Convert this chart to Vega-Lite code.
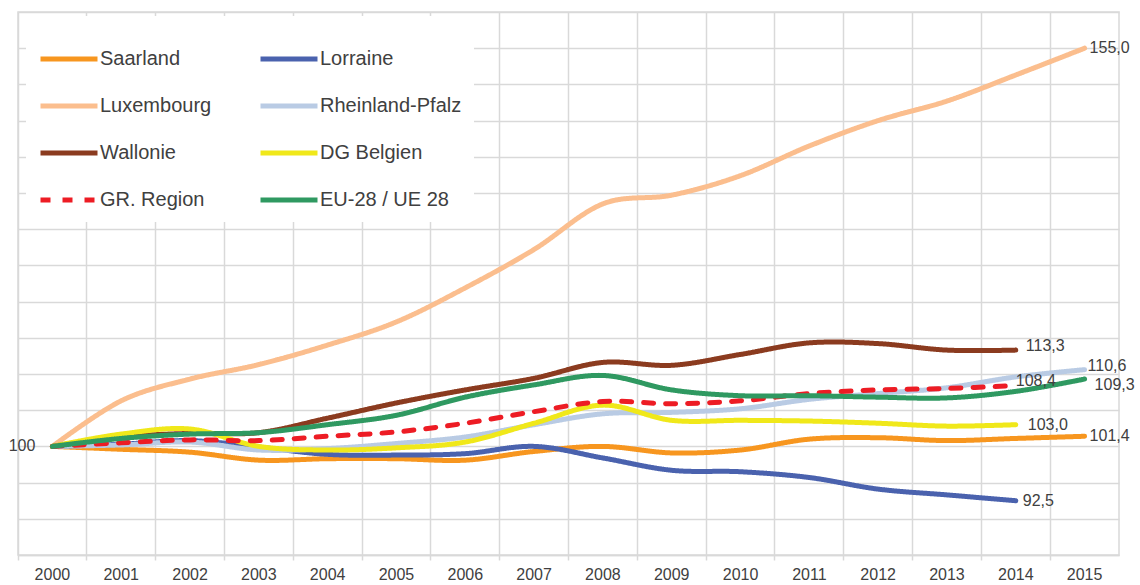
{
  "$schema": "https://vega.github.io/schema/vega-lite/v6.json",
  "width": 1101,
  "height": 543,
  "autosize": {"type": "none"},
  "padding": {"left": 18, "top": 12, "right": 21, "bottom": 30},
  "background": "white",
  "config": {
    "view": {"stroke": "#d9d9d9", "strokeWidth": 1.5},
    "font": "Liberation Sans",
    "legend": {
      "title": null,
      "orient": "none",
      "legendX": 8,
      "legendY": 4,
      "direction": "horizontal",
      "columns": 2,
      "columnPadding": 38,
      "rowPadding": 6,
      "padding": 12,
      "fillColor": "white",
      "symbolType": "stroke",
      "symbolStrokeWidth": 5,
      "symbolSize": 3249,
      "labelFont": "Liberation Sans",
      "labelFontSize": 20,
      "labelColor": "#404040",
      "labelOffset": 0
    }
  },
  "data": {
    "values": [
      {"year": "2000", "series": "Saarland", "value": 100},
      {"year": "2001", "series": "Saarland", "value": 99.6},
      {"year": "2002", "series": "Saarland", "value": 99.2},
      {"year": "2003", "series": "Saarland", "value": 98.1},
      {"year": "2004", "series": "Saarland", "value": 98.3},
      {"year": "2005", "series": "Saarland", "value": 98.3},
      {"year": "2006", "series": "Saarland", "value": 98.1},
      {"year": "2007", "series": "Saarland", "value": 99.3},
      {"year": "2008", "series": "Saarland", "value": 100.0},
      {"year": "2009", "series": "Saarland", "value": 99.1},
      {"year": "2010", "series": "Saarland", "value": 99.5},
      {"year": "2011", "series": "Saarland", "value": 101.0},
      {"year": "2012", "series": "Saarland", "value": 101.2},
      {"year": "2013", "series": "Saarland", "value": 100.8},
      {"year": "2014", "series": "Saarland", "value": 101.1},
      {"year": "2015", "series": "Saarland", "value": 101.4, "label": "101,4"},

      {"year": "2000", "series": "Lorraine", "value": 100},
      {"year": "2001", "series": "Lorraine", "value": 100.3},
      {"year": "2002", "series": "Lorraine", "value": 100.8},
      {"year": "2003", "series": "Lorraine", "value": 99.9},
      {"year": "2004", "series": "Lorraine", "value": 98.9},
      {"year": "2005", "series": "Lorraine", "value": 98.8},
      {"year": "2006", "series": "Lorraine", "value": 99.0},
      {"year": "2007", "series": "Lorraine", "value": 100.0},
      {"year": "2008", "series": "Lorraine", "value": 98.4},
      {"year": "2009", "series": "Lorraine", "value": 96.7},
      {"year": "2010", "series": "Lorraine", "value": 96.5},
      {"year": "2011", "series": "Lorraine", "value": 95.7},
      {"year": "2012", "series": "Lorraine", "value": 94.1},
      {"year": "2013", "series": "Lorraine", "value": 93.3},
      {"year": "2014", "series": "Lorraine", "value": 92.5, "label": "92,5"},

      {"year": "2000", "series": "Luxembourg", "value": 100},
      {"year": "2001", "series": "Luxembourg", "value": 106.3},
      {"year": "2002", "series": "Luxembourg", "value": 109.3},
      {"year": "2003", "series": "Luxembourg", "value": 111.3},
      {"year": "2004", "series": "Luxembourg", "value": 114.0},
      {"year": "2005", "series": "Luxembourg", "value": 117.2},
      {"year": "2006", "series": "Luxembourg", "value": 121.9},
      {"year": "2007", "series": "Luxembourg", "value": 127.2},
      {"year": "2008", "series": "Luxembourg", "value": 133.5},
      {"year": "2009", "series": "Luxembourg", "value": 134.7},
      {"year": "2010", "series": "Luxembourg", "value": 137.4},
      {"year": "2011", "series": "Luxembourg", "value": 141.5},
      {"year": "2012", "series": "Luxembourg", "value": 145.0},
      {"year": "2013", "series": "Luxembourg", "value": 147.7},
      {"year": "2014", "series": "Luxembourg", "value": 151.3},
      {"year": "2015", "series": "Luxembourg", "value": 155.0, "label": "155,0"},

      {"year": "2000", "series": "Rheinland-Pfalz", "value": 100},
      {"year": "2001", "series": "Rheinland-Pfalz", "value": 100.2},
      {"year": "2002", "series": "Rheinland-Pfalz", "value": 100.6},
      {"year": "2003", "series": "Rheinland-Pfalz", "value": 99.5},
      {"year": "2004", "series": "Rheinland-Pfalz", "value": 99.7},
      {"year": "2005", "series": "Rheinland-Pfalz", "value": 100.4},
      {"year": "2006", "series": "Rheinland-Pfalz", "value": 101.3},
      {"year": "2007", "series": "Rheinland-Pfalz", "value": 103.0},
      {"year": "2008", "series": "Rheinland-Pfalz", "value": 104.5},
      {"year": "2009", "series": "Rheinland-Pfalz", "value": 104.7},
      {"year": "2010", "series": "Rheinland-Pfalz", "value": 105.2},
      {"year": "2011", "series": "Rheinland-Pfalz", "value": 106.5},
      {"year": "2012", "series": "Rheinland-Pfalz", "value": 107.3},
      {"year": "2013", "series": "Rheinland-Pfalz", "value": 108.1},
      {"year": "2014", "series": "Rheinland-Pfalz", "value": 109.6},
      {"year": "2015", "series": "Rheinland-Pfalz", "value": 110.6, "label": "110,6"},

      {"year": "2000", "series": "Wallonie", "value": 100},
      {"year": "2001", "series": "Wallonie", "value": 101.3},
      {"year": "2002", "series": "Wallonie", "value": 101.8},
      {"year": "2003", "series": "Wallonie", "value": 101.9},
      {"year": "2004", "series": "Wallonie", "value": 103.9},
      {"year": "2005", "series": "Wallonie", "value": 106.0},
      {"year": "2006", "series": "Wallonie", "value": 107.8},
      {"year": "2007", "series": "Wallonie", "value": 109.4},
      {"year": "2008", "series": "Wallonie", "value": 111.6},
      {"year": "2009", "series": "Wallonie", "value": 111.2},
      {"year": "2010", "series": "Wallonie", "value": 112.7},
      {"year": "2011", "series": "Wallonie", "value": 114.3},
      {"year": "2012", "series": "Wallonie", "value": 114.2},
      {"year": "2013", "series": "Wallonie", "value": 113.3},
      {"year": "2014", "series": "Wallonie", "value": 113.3, "label": "113,3"},

      {"year": "2000", "series": "DG Belgien", "value": 100},
      {"year": "2001", "series": "DG Belgien", "value": 101.7},
      {"year": "2002", "series": "DG Belgien", "value": 102.4},
      {"year": "2003", "series": "DG Belgien", "value": 100.0},
      {"year": "2004", "series": "DG Belgien", "value": 99.5},
      {"year": "2005", "series": "DG Belgien", "value": 99.8},
      {"year": "2006", "series": "DG Belgien", "value": 100.6},
      {"year": "2007", "series": "DG Belgien", "value": 103.2},
      {"year": "2008", "series": "DG Belgien", "value": 105.7},
      {"year": "2009", "series": "DG Belgien", "value": 103.6},
      {"year": "2010", "series": "DG Belgien", "value": 103.6},
      {"year": "2011", "series": "DG Belgien", "value": 103.5},
      {"year": "2012", "series": "DG Belgien", "value": 103.2},
      {"year": "2013", "series": "DG Belgien", "value": 102.8},
      {"year": "2014", "series": "DG Belgien", "value": 103.0, "label": "103,0"},

      {"year": "2000", "series": "GR. Region", "value": 100},
      {"year": "2001", "series": "GR. Region", "value": 100.5},
      {"year": "2002", "series": "GR. Region", "value": 100.9},
      {"year": "2003", "series": "GR. Region", "value": 100.8},
      {"year": "2004", "series": "GR. Region", "value": 101.4},
      {"year": "2005", "series": "GR. Region", "value": 102.0},
      {"year": "2006", "series": "GR. Region", "value": 103.2},
      {"year": "2007", "series": "GR. Region", "value": 104.8},
      {"year": "2008", "series": "GR. Region", "value": 106.2},
      {"year": "2009", "series": "GR. Region", "value": 105.9},
      {"year": "2010", "series": "GR. Region", "value": 106.3},
      {"year": "2011", "series": "GR. Region", "value": 107.3},
      {"year": "2012", "series": "GR. Region", "value": 107.8},
      {"year": "2013", "series": "GR. Region", "value": 108.0},
      {"year": "2014", "series": "GR. Region", "value": 108.4, "label": "108,4"},

      {"year": "2000", "series": "EU-28 / UE 28", "value": 100, "label": "100"},
      {"year": "2001", "series": "EU-28 / UE 28", "value": 101.1},
      {"year": "2002", "series": "EU-28 / UE 28", "value": 101.7},
      {"year": "2003", "series": "EU-28 / UE 28", "value": 101.9},
      {"year": "2004", "series": "EU-28 / UE 28", "value": 103.0},
      {"year": "2005", "series": "EU-28 / UE 28", "value": 104.3},
      {"year": "2006", "series": "EU-28 / UE 28", "value": 106.8},
      {"year": "2007", "series": "EU-28 / UE 28", "value": 108.5},
      {"year": "2008", "series": "EU-28 / UE 28", "value": 109.8},
      {"year": "2009", "series": "EU-28 / UE 28", "value": 107.8},
      {"year": "2010", "series": "EU-28 / UE 28", "value": 107.0},
      {"year": "2011", "series": "EU-28 / UE 28", "value": 107.0},
      {"year": "2012", "series": "EU-28 / UE 28", "value": 106.8},
      {"year": "2013", "series": "EU-28 / UE 28", "value": 106.7},
      {"year": "2014", "series": "EU-28 / UE 28", "value": 107.6},
      {"year": "2015", "series": "EU-28 / UE 28", "value": 109.3, "label": "109,3"}
    ]
  },
  "encoding": {
    "x": {
      "field": "year",
      "type": "ordinal",
      "bandPosition": 0.5,
      "scale": {"type": "band", "paddingInner": 0, "paddingOuter": 0},
      "axis": {
        "title": null,
        "labelAngle": 0,
        "bandPosition": 0,
        "grid": true,
        "gridColor": "#d9d9d9",
        "gridWidth": 1.5,
        "domainColor": "#d9d9d9",
        "domainWidth": 1.5,
        "tickColor": "#d9d9d9",
        "tickWidth": 1.5,
        "tickSize": 5,
        "labelFont": "Liberation Sans",
        "labelFontSize": 16,
        "labelColor": "#404040",
        "labelPadding": 6
      }
    },
    "y": {
      "field": "value",
      "type": "quantitative",
      "scale": {"domain": [85, 160], "nice": false, "zero": false},
      "axis": {
        "title": null,
        "tickCount": 15,
        "labels": false,
        "ticks": false,
        "domain": false,
        "grid": true,
        "gridColor": "#d9d9d9",
        "gridWidth": 1.5
      }
    }
  },
  "layer": [
    {
      "mark": {"type": "line", "strokeWidth": 5, "interpolate": "cardinal", "strokeCap": "round", "strokeJoin": "round"},
      "encoding": {
        "color": {
          "field": "series",
          "type": "nominal",
          "sort": null,
          "scale": {
            "domain": ["Saarland", "Lorraine", "Luxembourg", "Rheinland-Pfalz", "Wallonie", "DG Belgien", "GR. Region", "EU-28 / UE 28"],
            "range": ["#F7961F", "#4A62AE", "#FBBE8E", "#B9CBE4", "#8B3B1F", "#F0E81A", "#ED1C24", "#2F9961"]
          }
        },
        "strokeDash": {
          "field": "series",
          "type": "nominal",
          "sort": null,
          "scale": {
            "domain": ["Saarland", "Lorraine", "Luxembourg", "Rheinland-Pfalz", "Wallonie", "DG Belgien", "GR. Region", "EU-28 / UE 28"],
            "range": [[1, 0], [1, 0], [1, 0], [1, 0], [1, 0], [1, 0], [10, 12], [1, 0]]
          }
        }
      }
    },
    {
      "transform": [{"filter": "datum.series === 'Luxembourg' || datum.series === 'Saarland'"}, {"filter": "isValid(datum.label)"}],
      "mark": {"type": "text", "align": "left", "baseline": "middle", "dx": 5, "fontSize": 16, "color": "#404040", "font": "Liberation Sans"},
      "encoding": {"text": {"field": "label"}}
    },
    {
      "transform": [{"filter": "datum.series === 'Wallonie' && isValid(datum.label)"}],
      "mark": {"type": "text", "align": "left", "baseline": "middle", "dx": 10, "dy": -4, "fontSize": 16, "color": "#404040", "font": "Liberation Sans"},
      "encoding": {"text": {"field": "label"}}
    },
    {
      "transform": [{"filter": "datum.series === 'Rheinland-Pfalz' && isValid(datum.label)"}],
      "mark": {"type": "text", "align": "left", "baseline": "middle", "dx": 3, "dy": -4, "fontSize": 16, "color": "#404040", "font": "Liberation Sans"},
      "encoding": {"text": {"field": "label"}}
    },
    {
      "transform": [{"filter": "datum.series === 'GR. Region' && isValid(datum.label)"}],
      "mark": {"type": "text", "align": "left", "baseline": "middle", "dx": 0, "dy": -5, "fontSize": 16, "color": "#404040", "font": "Liberation Sans"},
      "encoding": {"text": {"field": "label"}}
    },
    {
      "transform": [{"filter": "datum.series === 'EU-28 / UE 28' && datum.year === '2015'"}],
      "mark": {"type": "text", "align": "left", "baseline": "middle", "dx": 10, "dy": 6, "fontSize": 16, "color": "#404040", "font": "Liberation Sans"},
      "encoding": {"text": {"field": "label"}}
    },
    {
      "transform": [{"filter": "datum.series === 'DG Belgien' && isValid(datum.label)"}],
      "mark": {"type": "text", "align": "left", "baseline": "middle", "dx": 12, "fontSize": 16, "color": "#404040", "font": "Liberation Sans"},
      "encoding": {"text": {"field": "label"}}
    },
    {
      "transform": [{"filter": "datum.series === 'Lorraine' && isValid(datum.label)"}],
      "mark": {"type": "text", "align": "left", "baseline": "middle", "dx": 7, "fontSize": 16, "color": "#404040", "font": "Liberation Sans"},
      "encoding": {"text": {"field": "label"}}
    },
    {
      "transform": [{"filter": "datum.series === 'EU-28 / UE 28' && datum.year === '2000'"}],
      "mark": {"type": "text", "align": "right", "baseline": "middle", "dx": -17, "fontSize": 16, "color": "#404040", "font": "Liberation Sans"},
      "encoding": {"text": {"field": "label"}}
    }
  ]
}
